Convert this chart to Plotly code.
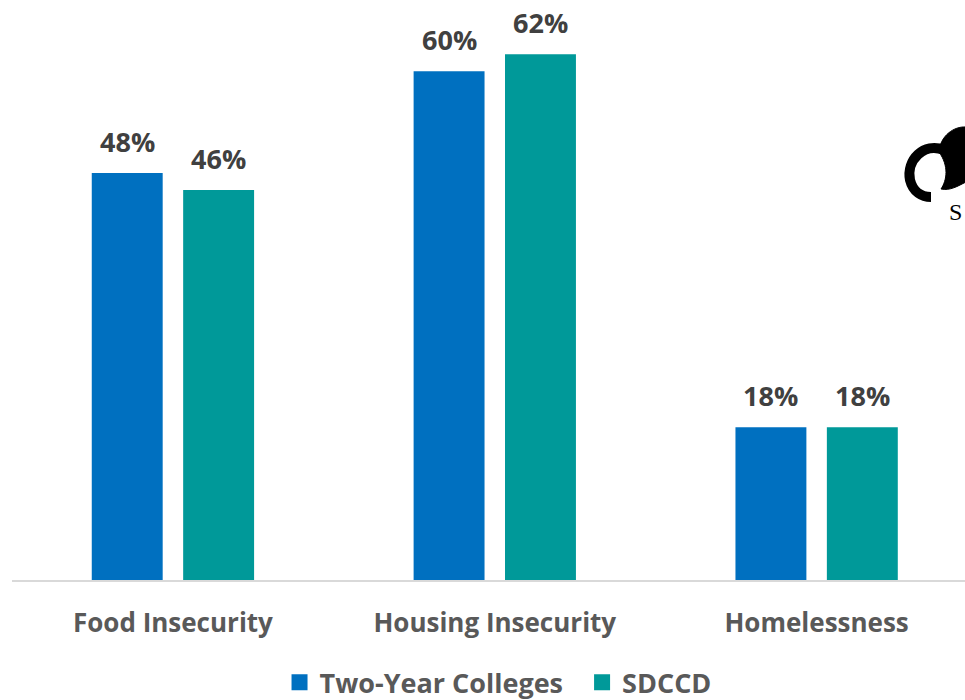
import plotly.graph_objects as go

categories = ["Food Insecurity", "Housing Insecurity", "Homelessness"]
two_year = [48, 60, 18]
sdccd = [46, 62, 18]
series_names = ["Two-Year Colleges", "SDCCD"]
colors = ["#0070C0", "#009999"]

FONT = "Open Sans, Lato, sans-serif"
BAR_OFFSET_PX = 45.75  # half the distance between paired bar centres

W, H = 965, 700
M_L, M_B = 12, 120
PLOT_W, PLOT_H = W - M_L, H - M_B


def px_path(cmds):
    """Build an SVG path in paper coordinates from (command, [px points]) pairs."""
    out = []
    for cmd, pts in cmds:
        seg = cmd
        for (x, y) in pts:
            seg += f" {(x - M_L) / PLOT_W:.5f},{(PLOT_H - y) / PLOT_H:.5f}"
        out.append(seg)
    return " ".join(out)


fig = go.Figure()
for name, vals, col in zip(series_names, [two_year, sdccd], colors):
    fig.add_trace(go.Bar(
        x=categories,
        y=vals,
        name=name,
        marker=dict(color=col, line=dict(width=0)),
        showlegend=False,
    ))

# legend entries with larger square swatches
legend_pad = ["&nbsp;&nbsp;", ""]
for name, col, pad in zip(series_names, colors, legend_pad):
    fig.add_trace(go.Scatter(
        x=[None], y=[None],
        mode="markers",
        name=f"<b>{name}</b>{pad}",
        marker=dict(symbol="square", size=17, color=col),
        showlegend=True,
    ))

# value labels above each bar
for sign, vals in zip([-1, 1], [two_year, sdccd]):
    for cat, v in zip(categories, vals):
        fig.add_annotation(
            x=cat, y=v,
            text=f"<b>{v}%</b>",
            showarrow=False,
            xanchor="center", yanchor="bottom",
            xshift=sign * BAR_OFFSET_PX,
            yshift=11,
            font=dict(family=FONT, size=27, color="#404040"),
        )

# partial logo at the right edge
logo_arc = px_path([
    ("M", [(944, 150)]),
    ("C", [(924, 142), (906, 160), (910, 180)]),
    ("C", [(913, 192), (922, 197), (931, 197)]),
])
logo_blob = px_path([
    ("M", [(939, 152)]),
    ("C", [(940, 136), (954, 126), (966, 127)]),
    ("L", [(966, 182)]),
    ("C", [(958, 186), (950, 191), (941, 189)]),
    ("C", [(947, 180), (949, 166), (939, 152)]),
])
fig.add_shape(type="path", xref="paper", yref="paper", path=logo_arc,
              line=dict(color="black", width=10), fillcolor="rgba(0,0,0,0)")
fig.add_shape(type="path", xref="paper", yref="paper", path=logo_blob,
              line=dict(color="black", width=1), fillcolor="black")
fig.add_annotation(
    xref="paper", yref="paper",
    x=(947 - M_L) / PLOT_W, y=(PLOT_H - 212) / PLOT_H,
    text="S", showarrow=False, xanchor="left", yanchor="middle",
    font=dict(family="Liberation Serif, DejaVu Serif, serif", size=24, color="black"),
)

fig.update_layout(
    width=W,
    height=H,
    paper_bgcolor="white",
    plot_bgcolor="white",
    margin=dict(l=M_L, r=0, t=0, b=M_B, autoexpand=False),
    barmode="group",
    bargap=0.432,
    bargroupgap=0.224,
    showlegend=True,
    legend=dict(
        orientation="h",
        x=0.51,
        xanchor="center",
        y=-0.177,
        yanchor="middle",
        font=dict(family=FONT, size=27, color="#595959"),
        itemsizing="trace",
        itemwidth=30,
        traceorder="normal",
    ),
    xaxis=dict(
        range=[-0.5, 2.461],
        showline=True,
        linecolor="#D9D9D9",
        linewidth=2,
        ticks="",
        showgrid=False,
        tickfont=dict(family=FONT, size=26, color="#595959"),
        tickvals=categories,
        ticktext=[f"<b>{c}</b>" for c in categories],
        ticklabelstandoff=19,
    ),
    yaxis=dict(
        range=[0, 68.4],
        visible=False,
        showgrid=False,
    ),
)

fig.write_html("out.html")
